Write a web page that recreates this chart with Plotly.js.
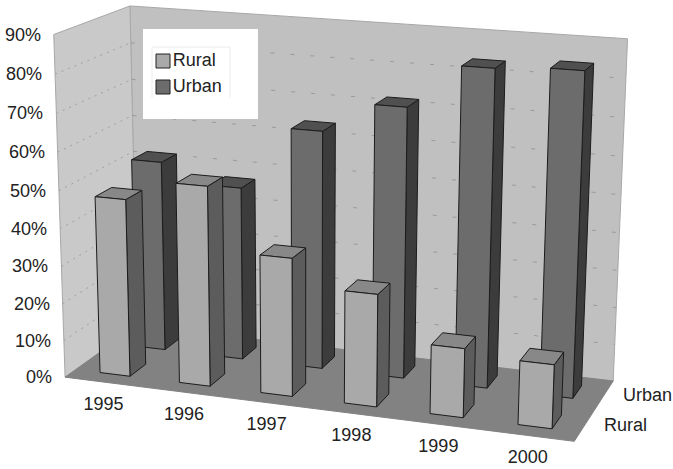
<!DOCTYPE html>
<html><head><meta charset="utf-8">
<script src="https://cdn.plot.ly/plotly-3.0.1.min.js"></script>
<style>html,body{margin:0;padding:0;background:#fff}#c{width:673px;height:469px}</style></head>
<body><div id="c"></div>
<script>
const years = ['1995','1996','1997','1998','1999','2000'];
const seriesNames = ['Rural','Urban'];
const rural = [47.5,53,36.5,29.5,18,16.5];
const urban = [52,47,64,72,83.5,84.5];
const valueTicks = [0,10,20,30,40,50,60,70,80,90];

// camera fit: box corners (category, depth, value) -> picture position
const fit = [
 [0,0,0,66,375],[6,0,0,575,442],[0,2,0,136,328],[6,2,0,613,380],
 [0,0,90,52,33],[6,0,90,588,76],[0,2,90,132,7],[6,2,90,627,36]];
function solve(M,b){const n=b.length;const A=M.map((r,i)=>r.concat(b[i]));
 for(let i=0;i<n;i++){let p=i;for(let k=i+1;k<n;k++)if(Math.abs(A[k][i])>Math.abs(A[p][i]))p=k;
  [A[i],A[p]]=[A[p],A[i]];
  for(let k=0;k<n;k++)if(k!==i){const f=A[k][i]/A[i][i];for(let j=i;j<=n;j++)A[k][j]-=f*A[i][j];}}
 return A.map((r,i)=>r[n]/r[i]);}
const rows=[],rhs=[];
fit.forEach(([u,v,w,x,y])=>{
 const U=u/6,V=v/2,W=w/90;
 rows.push([U,V,W,1,0,0,0,0,-x*U,-x*V,-x*W]);rhs.push(x);
 rows.push([0,0,0,0,U,V,W,1,-y*U,-y*V,-y*W]);rhs.push(y);});
const N=Array.from({length:11},(_,i)=>Array.from({length:11},(_,j)=>rows.reduce((s,r)=>s+r[i]*r[j],0)));
const B=Array.from({length:11},(_,i)=>rows.reduce((s,r,k)=>s+r[i]*rhs[k],0));
const P=solve(N,B);
function pr(u,v,w){const U=u/6,V=v/2,W=w/90,d=P[8]*U+P[9]*V+P[10]*W+1;
 return [(P[0]*U+P[1]*V+P[2]*W+P[3])/d,(P[4]*U+P[5]*V+P[6]*W+P[7])/d];}

const traces=[];
function poly(pts,fill,line,lw,name){
 const xs=[],ys=[];
 pts.forEach(p=>{const q=pr(p[0],p[1],p[2]);xs.push(q[0]);ys.push(q[1]);});
 xs.push(xs[0]);ys.push(ys[0]);
 traces.push({type:'scatter',mode:'lines',x:xs,y:ys,fill:'toself',fillcolor:fill,
  line:{color:line,width:lw},hoverinfo:'skip',showlegend:false,name:name||''});}
function seg(a,b,color,dash,width){const p=pr(...a),q=pr(...b);
 traces.push({type:'scatter',mode:'lines',x:[p[0],q[0]],y:[p[1],q[1]],
  line:{color:color,width:width||1,dash:dash||'solid'},hoverinfo:'skip',showlegend:false});}

// walls and floor
poly([[0,2,0],[6,2,0],[6,2,90],[0,2,90]],'#c0c0c0','#a8a8a8',1,'back wall');
poly([[0,0,0],[0,2,0],[0,2,90],[0,0,90]],'#c9c9c9','#a8a8a8',1,'side wall');
poly([[0,0,0],[6,0,0],[6,2,0],[0,2,0]],'#828282','#828282',1,'floor');
valueTicks.slice(1,-1).forEach(t=>{
 seg([0,0,t],[0,2,t],'#a0a0a0','2px,5px');
 seg([0,2,t],[6,2,t],'#9a9a9a','4px,16px');
});

// bars
const hu=0.19, hv=0.22;
function bar(i,vc,val,c){
 const u0=i+0.5-hu,u1=i+0.5+hu,v0=vc-hv,v1=vc+hv;
 poly([[u1,v0,0],[u1,v1,0],[u1,v1,val],[u1,v0,val]],c.side,'#1c1c1c',1);
 poly([[u0,v0,val],[u1,v0,val],[u1,v1,val],[u0,v1,val]],c.top,'#1c1c1c',1);
 poly([[u0,v0,0],[u1,v0,0],[u1,v0,val],[u0,v0,val]],c.front,'#1c1c1c',1);
}
const cUrban={front:'#6c6c6c',side:'#3c3c3c',top:'#505050'};
const cRural={front:'#a9a9a9',side:'#5c5c5c',top:'#888888'};
urban.forEach((val,i)=>bar(i,1.5,val,cUrban));
rural.forEach((val,i)=>bar(i,0.5,val,cRural));

// legend
traces.push({type:'scatter',mode:'lines',x:[143,258,258,143,143],y:[29,29,119,119,29],fill:'toself',
 fillcolor:'#ffffff',line:{color:'#ffffff',width:0},hoverinfo:'skip',showlegend:false});
traces.push({type:'scatter',mode:'lines',x:[152,152,230,230],y:[98,47,47,98],
 line:{color:'#ececec',width:1},hoverinfo:'skip',showlegend:false});
const font={family:'Liberation Sans, Arial, sans-serif',size:18,color:'#222'};
[['Rural',cRural.front,61],['Urban',cUrban.front,87]].forEach(([t,c,y])=>{
 traces.push({type:'scatter',mode:'markers+text',x:[163],y:[y],text:[t],textposition:'middle right',
  textfont:{...font,size:18},marker:{symbol:'square',size:14,color:c,line:{color:'#222',width:1}},
  hoverinfo:'skip',showlegend:false,cliponaxis:false});});

// axis labels
const yearPts=years.map((t,i)=>pr(i+0.5,0,0));
traces.push({type:'scatter',mode:'text',x:yearPts.map(p=>p[0]-1),y:yearPts.map(p=>p[1]+23),text:years,
 textposition:'middle center',textfont:font,hoverinfo:'skip',showlegend:false,cliponaxis:false});
const ann=[];
valueTicks.forEach(t=>{const p=pr(0,0,t);
 ann.push({x:p[0]-11,y:p[1],text:t+'%',xanchor:'right',yanchor:'middle'});});
seriesNames.forEach((t,i)=>{const p=pr(6,i+0.5,0);
 ann.push({x:p[0]+17,y:p[1],text:t,xanchor:'left',yanchor:'middle'});});
ann.forEach(a=>{a.showarrow=false;a.font=font;a.xref='x';a.yref='y';});

Plotly.newPlot('c',traces,{
 width:673,height:469,margin:{l:0,r:0,t:0,b:0},showlegend:false,
 paper_bgcolor:'#fff',plot_bgcolor:'#fff',
 xaxis:{range:[0,673],visible:false,fixedrange:true},
 yaxis:{range:[469,0],visible:false,fixedrange:true},
 annotations:ann,hovermode:false
},{displayModeBar:false,staticPlot:true});
</script></body></html>
